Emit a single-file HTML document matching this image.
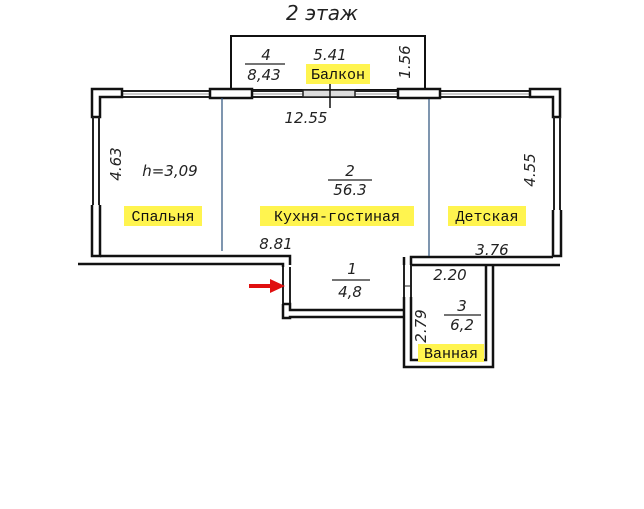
<!DOCTYPE html>
<html><head><meta charset="utf-8"><style>
html,body{margin:0;padding:0;background:#fff}
svg{display:block}
.t{font-family:"DejaVu Sans","Liberation Sans",sans-serif;font-style:italic;fill:#222}
.m{font-family:"Liberation Mono","DejaVu Sans Mono",monospace;fill:#111}
</style></head><body>
<svg width="644" height="509" viewBox="0 0 644 509" xmlns="http://www.w3.org/2000/svg">
<text x="322" y="20" class="t" font-size="20" text-anchor="middle">2 этаж</text>
<!-- balcony -->
<rect x="231" y="36" width="194" height="54" fill="none" stroke="#111" stroke-width="2"/>
<!-- top wall -->
<line x1="100" y1="91" x2="553" y2="91" stroke="#222" stroke-width="2"/>
<line x1="100" y1="97" x2="553" y2="97" stroke="#222" stroke-width="2"/>
<line x1="100" y1="94" x2="553" y2="94" stroke="#999" stroke-width="1"/>
<!-- corners -->
<path d="M92 89 H122 V97 H100 V117 H92 Z" fill="#fff" stroke="#111" stroke-width="2.5"/>
<path d="M560 89 H530 V97 H553 V117 H560 Z" fill="#fff" stroke="#111" stroke-width="2.5"/>
<rect x="210" y="89" width="42" height="9" fill="#fff" stroke="#111" stroke-width="2.5"/>
<rect x="398" y="89" width="42" height="9" fill="#fff" stroke="#111" stroke-width="2.5"/>
<rect x="303" y="90" width="52" height="7" fill="#ddd" stroke="#222" stroke-width="1.5"/>
<line x1="330" y1="84" x2="330" y2="108" stroke="#111" stroke-width="1.5"/>
<!-- left wall -->
<line x1="93" y1="117" x2="93" y2="205" stroke="#222" stroke-width="2"/>
<line x1="99" y1="117" x2="99" y2="205" stroke="#222" stroke-width="2"/>
<path d="M92 205 V256 H100 V205" fill="none" stroke="#111" stroke-width="2.5"/>
<!-- right wall -->
<line x1="554" y1="117" x2="554" y2="210" stroke="#222" stroke-width="2"/>
<line x1="560" y1="117" x2="560" y2="210" stroke="#222" stroke-width="2"/>
<path d="M553 210 V256 H561 V210" fill="none" stroke="#111" stroke-width="2.5"/>
<!-- main bottom -->
<path d="M100 256 H290 V265" fill="none" stroke="#111" stroke-width="2.5"/>
<path d="M78 264 H283 V267" fill="none" stroke="#111" stroke-width="2.5"/>
<path d="M411 265 V257 H553" fill="none" stroke="#111" stroke-width="2.5"/>
<path d="M411 265 H560" fill="none" stroke="#111" stroke-width="2.5"/>
<!-- hall left wall with door -->
<line x1="283" y1="267" x2="283" y2="304" stroke="#222" stroke-width="2"/>
<line x1="290" y1="267" x2="290" y2="304" stroke="#222" stroke-width="2"/>
<path d="M283 304 H290 V310 H404" fill="none" stroke="#111" stroke-width="2.5"/>
<path d="M283 304 V318 H290 V317 H404" fill="none" stroke="#111" stroke-width="2.5"/>
<!-- hall right / bath -->
<path d="M404 257 V265" fill="none" stroke="#111" stroke-width="2.5"/>
<line x1="404" y1="265" x2="404" y2="297" stroke="#222" stroke-width="2"/>
<line x1="411" y1="265" x2="411" y2="297" stroke="#222" stroke-width="2"/>
<line x1="404" y1="286" x2="411" y2="286" stroke="#222" stroke-width="1"/>
<path d="M404 297 V367 H493 V265" fill="none" stroke="#111" stroke-width="2.5"/>
<path d="M411 297 V360 H486 V265" fill="none" stroke="#111" stroke-width="2.5"/>
<!-- blue partitions -->
<line x1="222" y1="98" x2="222" y2="251" stroke="#2a4f7a" stroke-width="1.2"/>
<line x1="429" y1="99" x2="429" y2="256" stroke="#2a4f7a" stroke-width="1.2"/>
<!-- arrow -->
<line x1="249" y1="286" x2="272" y2="286" stroke="#e01010" stroke-width="4"/>
<path d="M270 279 L285 286 L270 293 Z" fill="#e01010"/>
<!-- labels -->
<g font-size="15">
<text x="266" y="60" class="t" text-anchor="middle">4</text>
<line x1="245" y1="64" x2="285" y2="64" stroke="#222" stroke-width="1.2"/>
<text x="264" y="80" class="t" text-anchor="middle">8,43</text>
<text x="330" y="60" class="t" text-anchor="middle">5.41</text>
<text x="306" y="123" class="t" text-anchor="middle">12.55</text>
<text class="t" transform="translate(410,62) rotate(-90)" text-anchor="middle">1.56</text>
<text class="t" transform="translate(121,164) rotate(-90)" text-anchor="middle">4.63</text>
<text class="t" transform="translate(535,170) rotate(-90)" text-anchor="middle">4.55</text>
<text x="170" y="176" class="t" text-anchor="middle">h=3,09</text>
<text x="350" y="176" class="t" text-anchor="middle">2</text>
<line x1="328" y1="180" x2="372" y2="180" stroke="#222" stroke-width="1.2"/>
<text x="350" y="195" class="t" text-anchor="middle">56.3</text>
<text x="276" y="249" class="t" text-anchor="middle">8.81</text>
<text x="492" y="255" class="t" text-anchor="middle">3.76</text>
<text x="352" y="274" class="t" text-anchor="middle">1</text>
<line x1="332" y1="280" x2="370" y2="280" stroke="#222" stroke-width="1.2"/>
<text x="350" y="297" class="t" text-anchor="middle">4,8</text>
<text x="450" y="280" class="t" text-anchor="middle">2.20</text>
<text x="462" y="311" class="t" text-anchor="middle">3</text>
<line x1="444" y1="315" x2="481" y2="315" stroke="#222" stroke-width="1.2"/>
<text x="462" y="330" class="t" text-anchor="middle">6,2</text>
<text class="t" transform="translate(426,326) rotate(-90)" text-anchor="middle">2.79</text>
</g>
<g font-size="15">
<rect x="306" y="64" width="64" height="20" fill="#fff44f"/>
<text x="338" y="79" class="m" text-anchor="middle">Балкон</text>
<rect x="124" y="206" width="78" height="20" fill="#fff44f"/>
<text x="163" y="221" class="m" text-anchor="middle">Спальня</text>
<rect x="260" y="206" width="154" height="20" fill="#fff44f"/>
<text x="337" y="221" class="m" text-anchor="middle">Кухня-гостиная</text>
<rect x="448" y="206" width="78" height="20" fill="#fff44f"/>
<text x="487" y="221" class="m" text-anchor="middle">Детская</text>
<rect x="418" y="344" width="66" height="18" fill="#fff44f"/>
<text x="451" y="358" class="m" text-anchor="middle">Ванная</text>
</g>
</svg>
</body></html>
